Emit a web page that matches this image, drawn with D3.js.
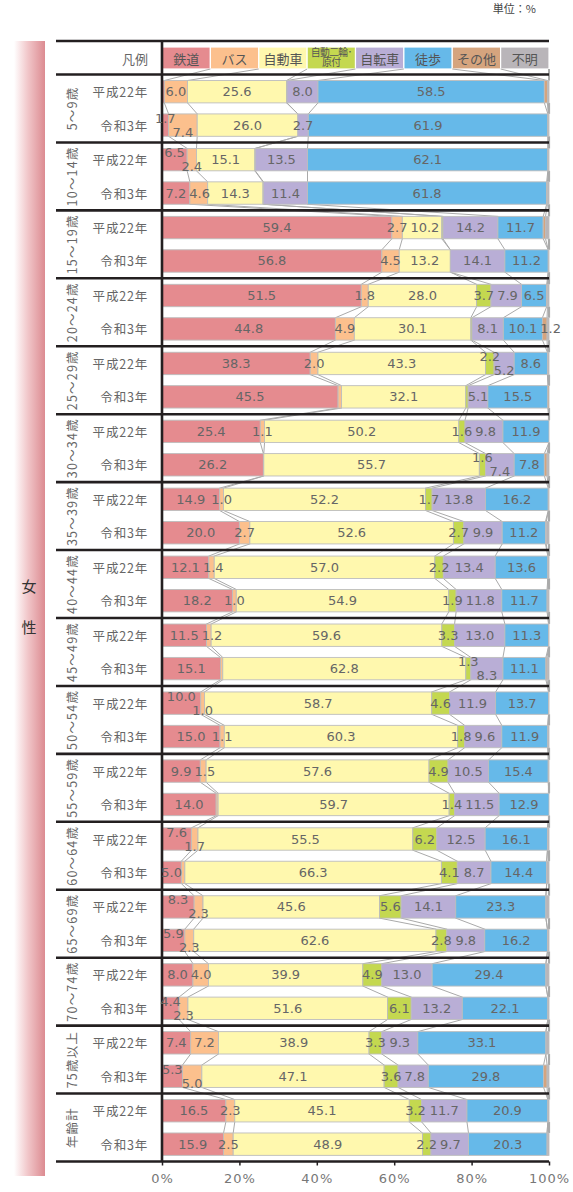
<!DOCTYPE html>
<html><head><meta charset="utf-8">
<script src="https://cdn.jsdelivr.net/npm/d3@7"></script>
<style>body{margin:0;background:#fff} svg{display:block}</style>
</head><body>
<svg id="c" width="573" height="1192"></svg>
<script>
const categories = ["鉄道","バス","自動車","自動二輪・原付","自転車","徒歩","その他","不明"];
const colors = ["#E58B8F","#FCC08D","#FFF8AE","#C4D850","#B9AED6","#66B9E9","#D5A47E","#B9B5B9"];
const ageGroups = ["5～9歳","10～14歳","15～19歳","20～24歳","25～29歳","30～34歳","35～39歳","40～44歳","45～49歳","50～54歳","55～59歳","60～64歳","65～69歳","70～74歳","75歳以上","年齢計"];
const years = ["平成22年","令和3年"];
const tickValues = [0,20,40,60,80,100];
const valuesH22 = [
  [0.6, 6.0, 25.6, 0.1, 8.0, 58.5, 0.8, 0.4],
  [6.5, 2.4, 15.1, 0.1, 13.5, 62.1, 0.1, 0.2],
  [59.4, 2.7, 10.2, 0.3, 14.2, 11.7, 0.6, 0.9],
  [51.5, 1.8, 28.0, 3.7, 7.9, 6.5, 0.2, 0.4],
  [38.3, 2.0, 43.3, 2.2, 5.2, 8.6, 0.0, 0.4],
  [25.4, 1.1, 50.2, 1.6, 9.8, 11.9, 0.0, 0.0],
  [14.9, 1.0, 52.2, 1.7, 13.8, 16.2, 0.1, 0.1],
  [12.1, 1.4, 57.0, 2.2, 13.4, 13.6, 0.0, 0.3],
  [11.5, 1.2, 59.6, 3.3, 13.0, 11.3, 0.0, 0.1],
  [10.0, 1.0, 58.7, 4.6, 11.9, 13.7, 0.0, 0.1],
  [9.9, 1.5, 57.6, 4.9, 10.5, 15.4, 0.2, 0.0],
  [7.6, 1.7, 55.5, 6.2, 12.5, 16.1, 0.0, 0.4],
  [8.3, 2.3, 45.6, 5.6, 14.1, 23.3, 0.0, 0.8],
  [8.0, 4.0, 39.9, 4.9, 13.0, 29.4, 0.0, 0.8],
  [7.4, 7.2, 38.9, 3.3, 9.3, 33.1, 0.0, 0.8],
  [16.5, 2.3, 45.1, 3.2, 11.7, 20.9, 0.0, 0.3]
];
const valuesR3 = [
  [1.7, 7.4, 26.0, 0.0, 2.7, 61.9, 0.1, 0.2],
  [7.2, 4.6, 14.3, 0.1, 11.4, 61.8, 0.2, 0.4],
  [56.8, 4.5, 13.2, 0.0, 14.1, 11.2, 0.0, 0.2],
  [44.8, 4.9, 30.1, 0.3, 8.1, 10.1, 1.2, 0.5],
  [45.5, 0.9, 32.1, 0.6, 5.1, 15.5, 0.3, 0.0],
  [26.2, 0.1, 55.7, 1.6, 7.4, 7.8, 0.7, 0.5],
  [20.0, 2.7, 52.6, 2.7, 9.9, 11.2, 0.2, 0.7],
  [18.2, 1.0, 54.9, 1.9, 11.8, 11.7, 0.2, 0.3],
  [15.1, 0.6, 62.8, 1.3, 8.3, 11.1, 0.3, 0.5],
  [15.0, 1.1, 60.3, 1.8, 9.6, 11.9, 0.0, 0.3],
  [14.0, 0.5, 59.7, 1.4, 11.5, 12.9, 0.0, 0.0],
  [5.0, 0.9, 66.3, 4.1, 8.7, 14.4, 0.0, 0.6],
  [5.9, 2.3, 62.6, 2.8, 9.8, 16.2, 0.0, 0.4],
  [4.4, 2.3, 51.6, 6.1, 13.2, 22.1, 0.0, 0.3],
  [5.3, 5.0, 47.1, 3.6, 7.8, 29.8, 0.9, 0.5],
  [15.9, 2.5, 48.9, 2.2, 9.7, 20.3, 0.0, 0.5]
];

const svg = d3.select("#c");
const JP = "'Noto Sans CJK JP','Noto Sans',sans-serif";
const NUM = "'DejaVu Sans',sans-serif";

const x = d3.scaleLinear().domain([0,100]).range([162,549]);
const yGroup = d3.scaleBand().domain(ageGroups).range([74.5,1161.5]);
const yYear = d3.scaleBand().domain(years).range([6,61.8]).paddingInner(0.33);
const color = d3.scaleOrdinal().domain(categories).range(colors);

const rows = [];
ageGroups.forEach((g,gi)=>{
  [valuesH22[gi], valuesR3[gi]].forEach((vals,yi)=>{
    const o = {group:g, year:years[yi]};
    categories.forEach((c,ci)=>o[c]=vals[ci]);
    rows.push(o);
  });
});
const stacked = d3.stack().keys(categories)(rows);
rows.forEach((r,i)=>{
  r.top = yGroup(r.group) + yYear(r.year);
  r.bottom = r.top + yYear.bandwidth();
  r.cum = [0].concat(stacked.map(s=>s[i][1]));
});

const defs = svg.append("defs");
const grad = defs.append("linearGradient").attr("id","pink").attr("x1","0").attr("x2","1").attr("y1","0").attr("y2","0");
grad.append("stop").attr("offset","0").attr("stop-color","#ffffff");
grad.append("stop").attr("offset","0.45").attr("stop-color","#F1C6C9");
grad.append("stop").attr("offset","1").attr("stop-color","#DC8B91");
svg.append("rect").attr("x",14).attr("y",41).attr("width",31).attr("height",1135).attr("fill","url(#pink)");
svg.append("text").attr("x",29).attr("y",592).attr("text-anchor","middle")
  .attr("font-family",JP).attr("font-size",15).attr("fill","#333")
  .selectAll("tspan").data(["女","性"]).join("tspan")
  .attr("x",29).attr("dy",(d,i)=>i?41:0).text(d=>d);

svg.append("text").attr("x",536).attr("y",13).attr("text-anchor","end")
  .attr("font-family",JP).attr("font-size",11).attr("fill","#444").text("単位：%");

// legend
const legTop = 47, legBot = 69;
const legW = 100/categories.length;
const leg = svg.append("g");
leg.selectAll("rect").data(categories).join("rect")
  .attr("x",(d,i)=>x(i*legW)).attr("y",legTop)
  .attr("width",(d,i)=>x((i+1)*legW)-x(i*legW)).attr("height",legBot-legTop)
  .attr("fill",d=>color(d)).attr("stroke","#fff").attr("stroke-width",1.2);
leg.selectAll("text").data(categories).join("text")
  .attr("x",(d,i)=>x((i+0.5)*legW)).attr("y",(legTop+legBot)/2)
  .attr("text-anchor","middle").attr("font-family",JP).attr("fill","#555")
  .each(function(d){
    const parts = d.split("・");
    const t = d3.select(this);
    if(parts.length>1){
      t.attr("font-size",9.8).attr("letter-spacing",-0.6);
      t.append("tspan").attr("x",t.attr("x")).attr("dy","-0.2em").text(parts[0]+"･");
      t.append("tspan").attr("x",t.attr("x")).attr("dy","1.05em").text(parts[1]);
    } else {
      t.attr("font-size",13).attr("dominant-baseline","central").text(d);
    }
  });
svg.append("text").attr("x",148).attr("y",58).attr("text-anchor","end").attr("dominant-baseline","central")
  .attr("font-family",JP).attr("font-size",13).attr("fill","#666").text("凡例");

// connectors
const conn = svg.append("g").attr("stroke","#aaa").attr("fill","none");
const nB = categories.length;
for(let k=1;k<=nB;k++){
  conn.append("line").attr("x1",x(k*legW)).attr("y1",legBot).attr("x2",x(rows[0].cum[k])).attr("y2",rows[0].top)
    .attr("stroke-width",k===nB?2:1);
}
for(let i=0;i<rows.length-1;i++){
  for(let k=1;k<=nB;k++){
    conn.append("line").attr("x1",x(rows[i].cum[k])).attr("y1",rows[i].bottom)
      .attr("x2",x(rows[i+1].cum[k])).attr("y2",rows[i+1].top)
      .attr("stroke-width",k===nB?2.2:1);
  }
}

// bars
const bars = svg.append("g");
stacked.forEach(s=>{
  bars.append("g").attr("fill",color(s.key)).selectAll("rect")
    .data(s.filter(d=>d[1]-d[0]>0)).join("rect")
    .attr("x",d=>x(d[0])).attr("width",d=>x(d[1])-x(d[0]))
    .attr("y",d=>yGroup(d.data.group)+yYear(d.data.year)).attr("height",yYear.bandwidth())
    .attr("stroke","#bdbdbd").attr("stroke-width",0.9);
});

// table lines
const lines = svg.append("g").attr("stroke","#231F20").attr("stroke-width",2.6);
const hy = [41, 74.5].concat(ageGroups.map(g=>yGroup(g)+yGroup.bandwidth()));
lines.selectAll("line.h").data(hy).join("line").attr("class","h")
  .attr("x1",56).attr("x2",549).attr("y1",d=>d).attr("y2",d=>d);
lines.append("line").attr("x1",162).attr("x2",162).attr("y1",41).attr("y2",1161.5);

// row labels
const lab = svg.append("g").attr("font-family",JP).attr("fill","#666");
ageGroups.forEach(g=>{
  lab.append("text").attr("transform",`translate(71,${yGroup(g)+yGroup.bandwidth()/2}) rotate(-90)`)
    .attr("text-anchor","middle").attr("dominant-baseline","central")
    .attr("font-size",12.5).attr("letter-spacing",1.2).text(g);
});
rows.forEach(r=>{
  lab.append("text").attr("x",148).attr("y",(r.top+r.bottom)/2)
    .attr("text-anchor","end").attr("dominant-baseline","central")
    .attr("font-size",12.5).attr("letter-spacing",0.8).text(r.year);
});

// value labels
const fmt = d3.format(".1f");
const vl = svg.append("g").attr("font-family",NUM).attr("font-size",13).attr("fill","#666")
  .attr("text-anchor","middle").attr("dominant-baseline","central");
rows.forEach(r=>{
  const labs = [];
  categories.forEach((c,ci)=>{
    const v = r[c];
    if(v>=1.0) labs.push({v, c:(r.cum[ci]+r.cum[ci+1])/2, dy:0});
  });
  for(let i=1;i<labs.length;i++){
    if(labs[i].c-labs[i-1].c < 5.6 && labs[i-1].dy===0){
      labs[i-1].dy=-7; labs[i].dy=7;
    }
  }
  const nodes = labs.map(l=>{
    const t = vl.append("text").attr("y",(r.top+r.bottom)/2+l.dy).text(fmt(l.v));
    l.px = x(l.c); l.w = t.node().getComputedTextLength(); l.t = t;
    return l;
  });
  for(let i=1;i<nodes.length;i++){
    const a = nodes[i-1], b = nodes[i];
    if(a.dy===0 && b.dy===0){
      const gap = (b.px - b.w/2) - (a.px + a.w/2);
      if(gap < 3) b.px += (3 - gap);
    }
  }
  nodes.forEach(l=>l.t.attr("x",l.px));
});

// axis
const ax = svg.append("g").attr("transform","translate(0,1161.5)")
  .call(d3.axisBottom(x).tickValues(tickValues).tickFormat(d=>d+"%").tickSize(4).tickPadding(8.5));
ax.select(".domain").remove();
ax.selectAll(".tick line").attr("stroke","#231F20").attr("stroke-width",1.5);
ax.selectAll(".tick text").attr("font-family",NUM).attr("font-size",13).attr("fill","#777").attr("letter-spacing",1);
</script>
</body></html>
